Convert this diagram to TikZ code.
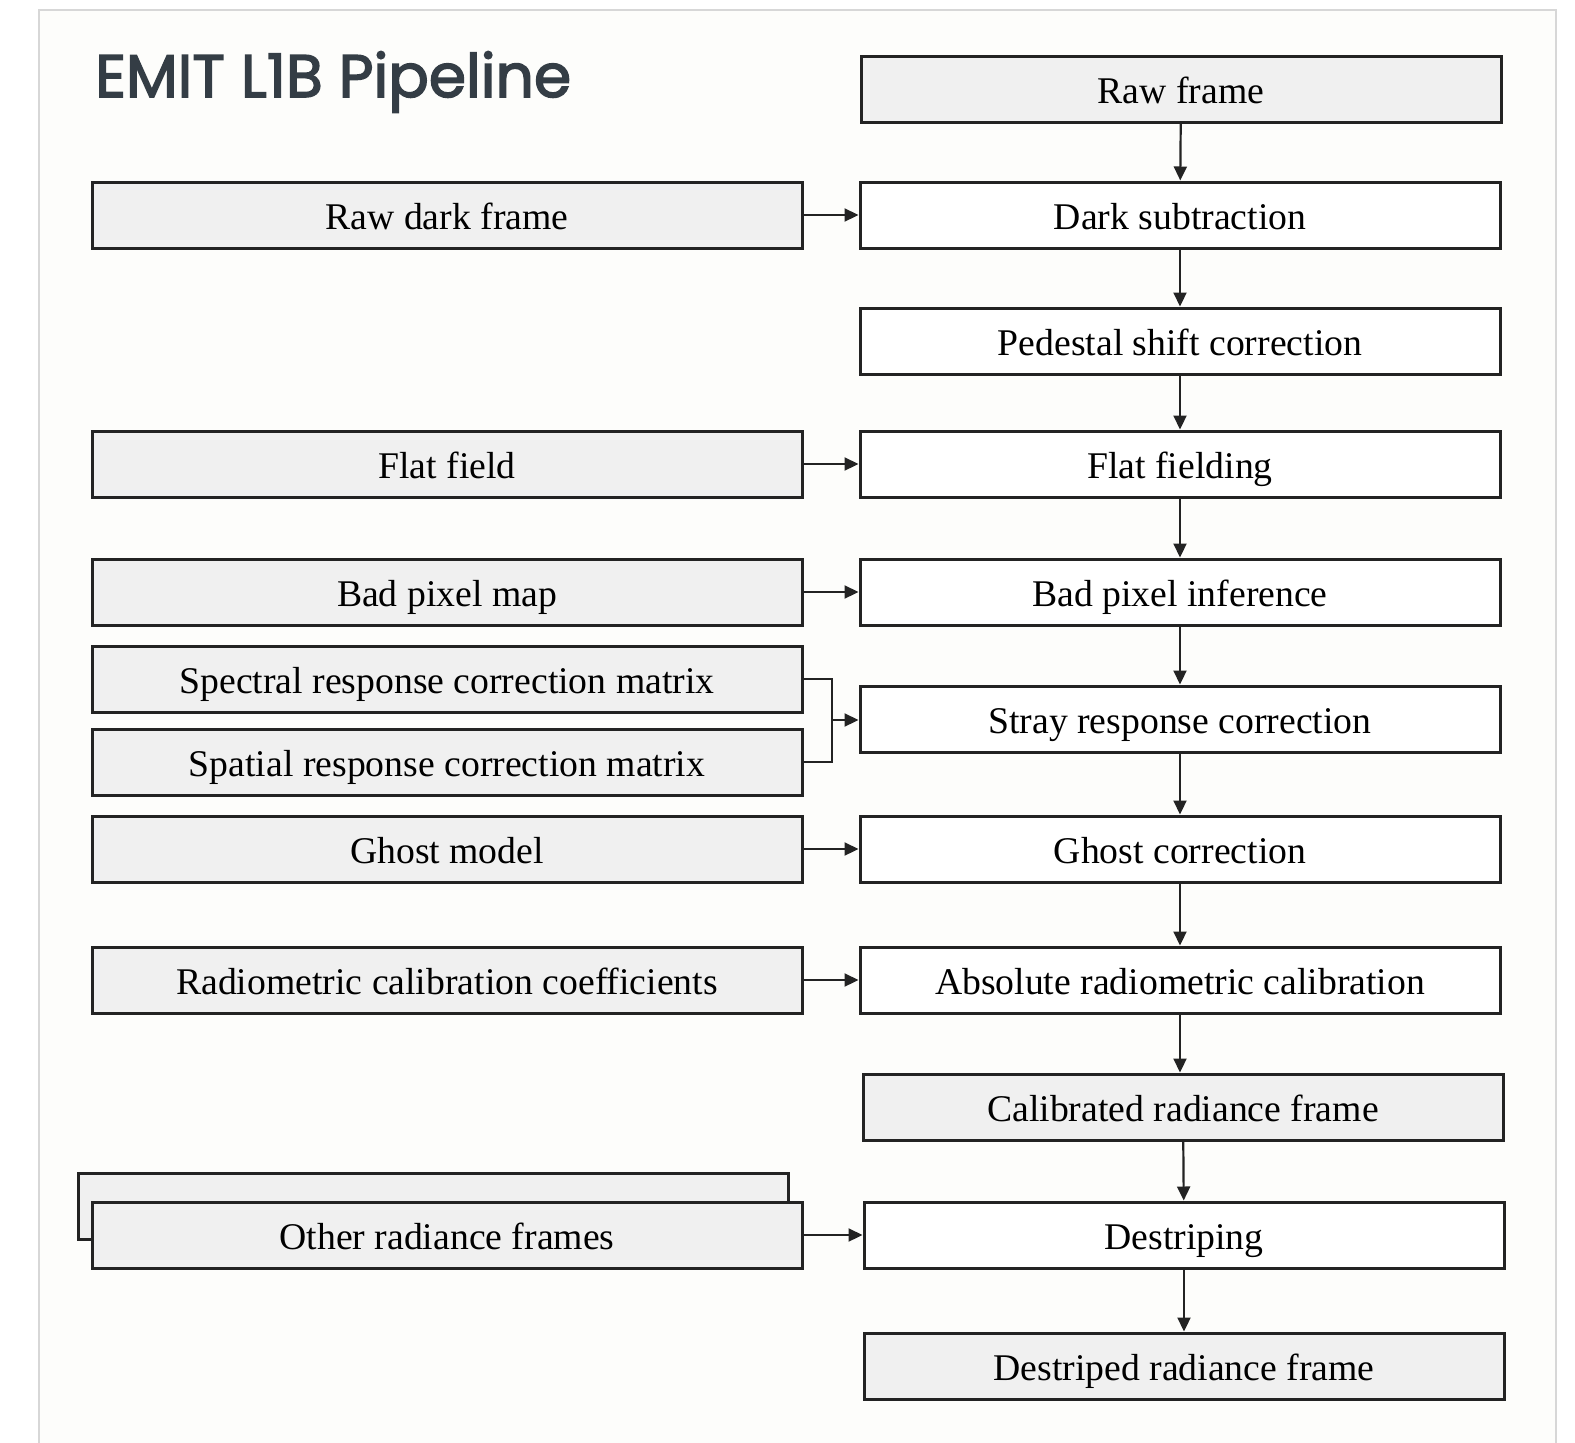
\documentclass[tikz,border=0pt]{standalone}
\usepackage{fontspec}
\setmainfont{Liberation Serif}
\newfontfamily\titlefont[FakeBold=2.5]{Poppins}
\usetikzlibrary{arrows.meta}
\definecolor{boxgray}{RGB}{240,240,240}
\definecolor{linegray}{RGB}{35,35,35}
\definecolor{titlegray}{RGB}{52,61,69}
\definecolor{cardgray}{RGB}{253,253,251}

\begin{document}
\begin{tikzpicture}[x=1pt,y=-1pt,
  inbox/.style={draw=linegray,line width=3pt,fill=boxgray,minimum width=710pt,minimum height=66pt,inner sep=0pt,text height=28pt,text depth=0pt,font=\fontsize{37.7}{44}\selectfont},
  stepbox/.style={inbox,fill=white,minimum width=640pt},
  databox/.style={stepbox,fill=boxgray},
  flow/.style={-{Triangle[length=14pt,width=13pt]},line width=2.2pt,draw=linegray}]
\useasboundingbox[fill=white] (0,0) rectangle (1575,1443);
\draw[draw={rgb,255:red,215;green,215;blue,215},line width=2pt,fill=cardgray] (39,10) rectangle (1556,1460);

\node[anchor=base west,inner sep=0pt,text=titlegray,font=\titlefont\fontsize{60}{70}\selectfont] (title) at (95,97) {EMIT L1B Pipeline};

\node[databox] (raw) at (1181,89) {Raw frame};
\node[stepbox] (dark) at (1180,215) {Dark subtraction};
\node[stepbox] (pedestal) at (1180,341) {Pedestal shift correction};
\node[stepbox] (flat) at (1180,464) {Flat fielding};
\node[stepbox] (badpix) at (1180,592) {Bad pixel inference};
\node[stepbox] (stray) at (1180,719) {Stray response correction};
\node[stepbox] (ghost) at (1180,849) {Ghost correction};
\node[stepbox] (absrad) at (1180,980) {Absolute radiometric calibration};
\node[databox] (calrad) at (1183,1107) {Calibrated radiance frame};
\node[stepbox] (destripe) at (1184,1235) {Destriping};
\node[databox] (destriped) at (1184,1366) {Destriped radiance frame};

\node[inbox] (rawdark) at (447,215) {Raw dark frame};
\node[inbox] (flatfield) at (447,464) {Flat field};
\node[inbox] (badmap) at (447,592) {Bad pixel map};
\node[inbox] (spectral) at (447,679) {Spectral response correction matrix};
\node[inbox] (spatial) at (447,762) {Spatial response correction matrix};
\node[inbox] (ghostmodel) at (447,849) {Ghost model};
\node[inbox] (radcoef) at (447,980) {Radiometric calibration coefficients};
\node[inbox] (otherback) at (433,1206) {};
\node[inbox] (other) at (447,1235) {Other radiance frames};

\draw[flow] (raw) -- (dark);
\draw[flow] (dark) -- (pedestal);
\draw[flow] (pedestal) -- (flat);
\draw[flow] (flat) -- (badpix);
\draw[flow] (badpix) -- (stray);
\draw[flow] (stray) -- (ghost);
\draw[flow] (ghost) -- (absrad);
\draw[flow] (absrad.south) -- (absrad.south |- calrad.north);
\draw[flow] (calrad) -- (destripe);
\draw[flow] (destripe) -- (destriped);

\draw[flow] (rawdark) -- (dark);
\draw[flow] (flatfield) -- (flatfield -| flat.west);
\draw[flow] (badmap) -- (badmap -| badpix.west);
\coordinate (join) at (832,720);
\draw[line width=2.2pt,draw=linegray] (spectral.east) -| (join) |- (spatial.east);
\draw[flow] (join) -- (join -| stray.west);
\draw[flow] (ghostmodel) -- (ghostmodel -| ghost.west);
\draw[flow] (radcoef) -- (radcoef -| absrad.west);
\draw[flow] (other) -- (other -| destripe.west);
\end{tikzpicture}
\end{document}
